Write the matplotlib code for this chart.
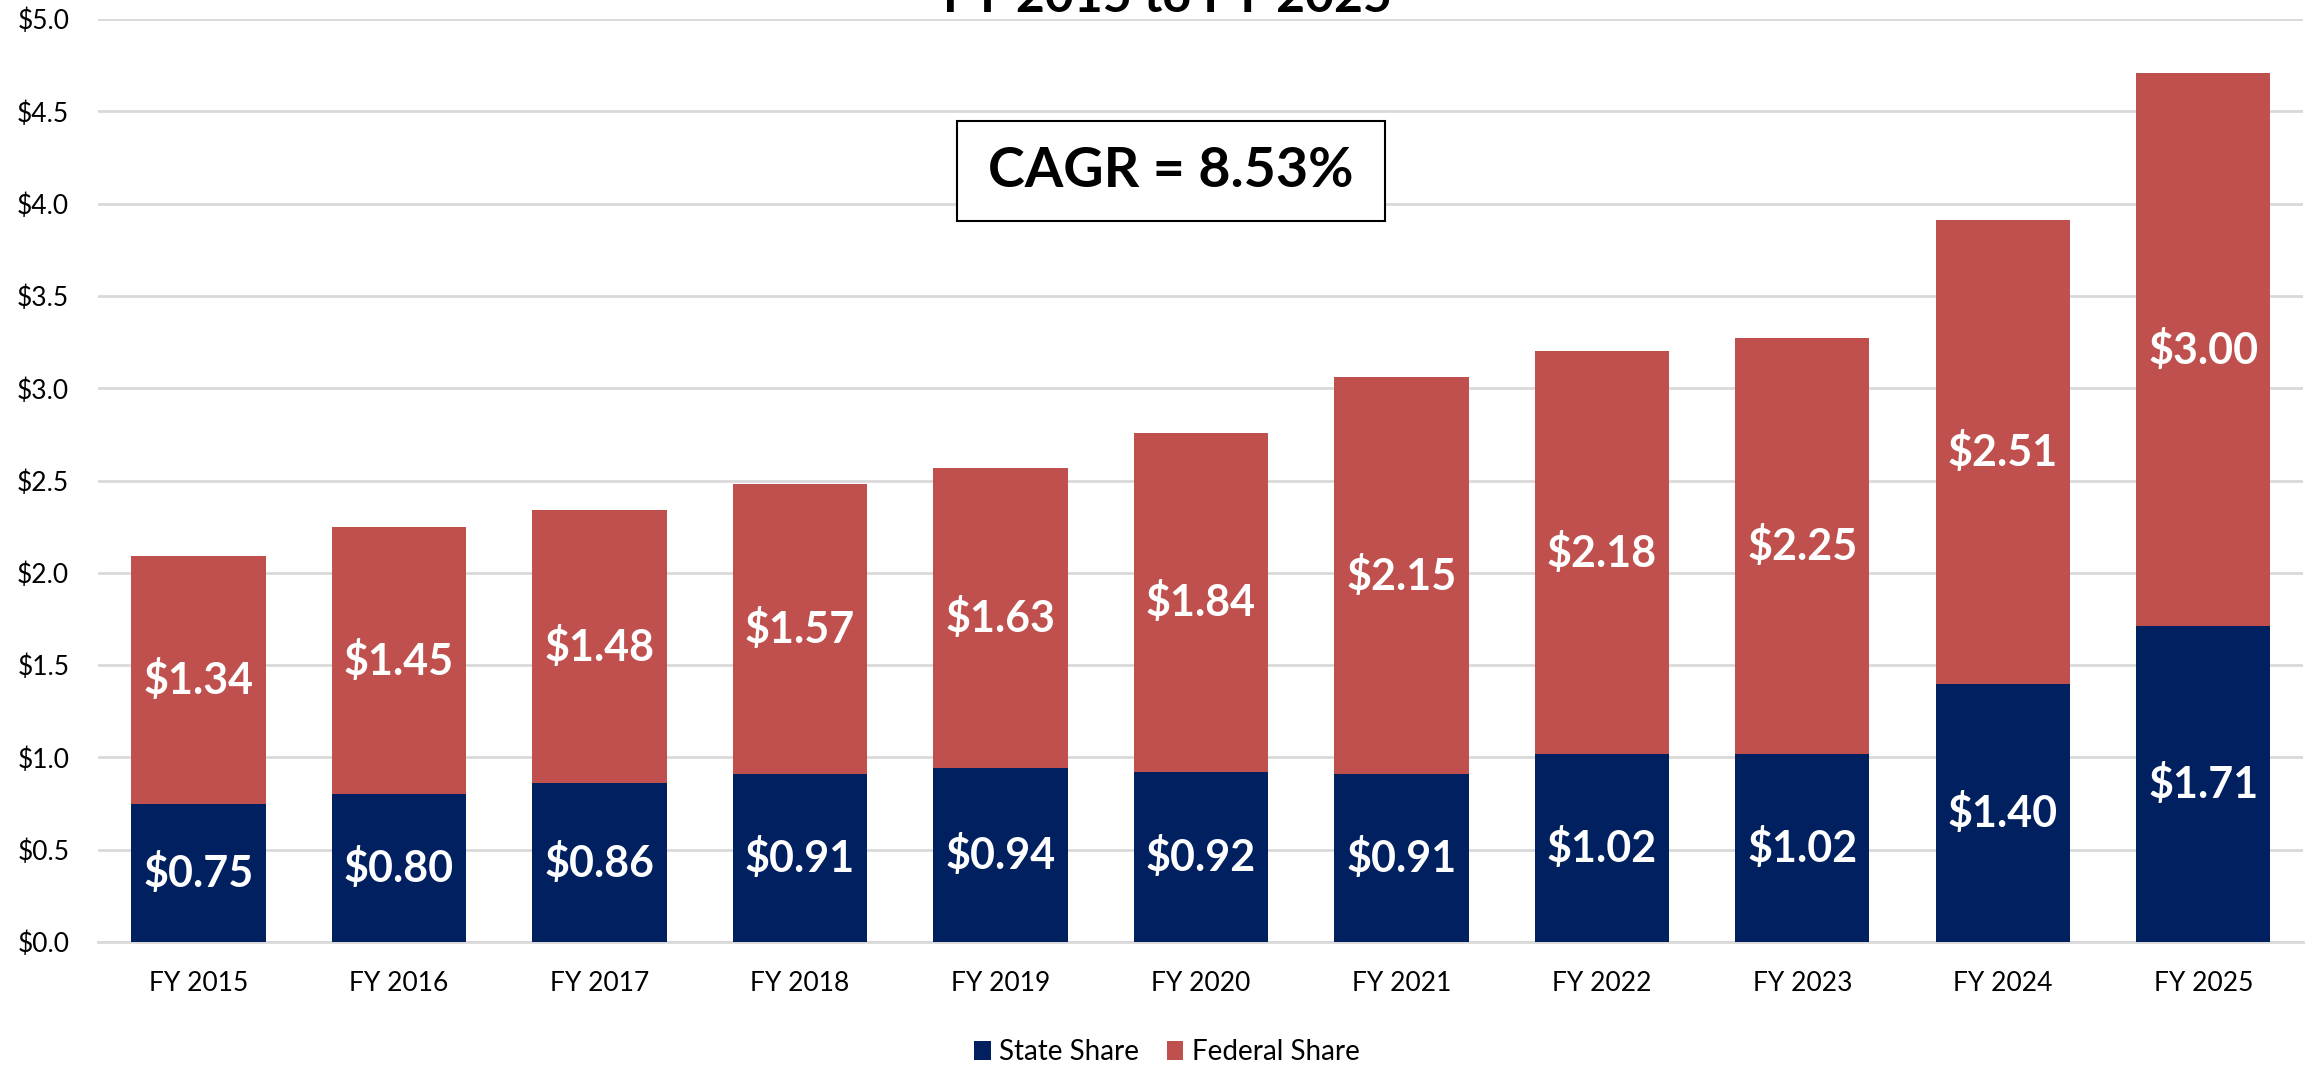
import matplotlib
matplotlib.use("Agg")
from matplotlib import pyplot as plt
from matplotlib.patches import Rectangle
import numpy as np

plt.rcParams['font.family'] = ['Lato', 'DejaVu Sans']

years = ["FY 2015", "FY 2016", "FY 2017", "FY 2018", "FY 2019", "FY 2020",
         "FY 2021", "FY 2022", "FY 2023", "FY 2024", "FY 2025"]
state_share = [0.75, 0.80, 0.86, 0.91, 0.94, 0.92, 0.91, 1.02, 1.02, 1.40, 1.71]
federal_share = [1.34, 1.45, 1.48, 1.57, 1.63, 1.84, 2.15, 2.18, 2.25, 2.51, 3.00]
y_ticks = [0.0, 0.5, 1.0, 1.5, 2.0, 2.5, 3.0, 3.5, 4.0, 4.5, 5.0]
cagr_text = "CAGR = 8.53%"
title_text = "FY 2015 to FY 2025"

navy = "#002060"
red = "#C0504D"

fig = plt.figure(figsize=(23.15, 10.68), dpi=100)
ax = fig.add_axes([0.0425, 0.118, 0.9525, 0.864])

x = np.arange(len(years))
state = np.array(state_share)
fed = np.array(federal_share)

ax.bar(x, state, width=0.67, color=navy, label="State Share", zorder=3)
ax.bar(x, fed, width=0.67, bottom=state, color=red, label="Federal Share", zorder=3)

# value labels centred in each segment
for i in range(len(x)):
    ax.text(x[i], state[i] / 2, f"${state[i]:.2f}", ha="center", va="center",
            color="white", fontsize=31, fontweight="bold", zorder=4)
    ax.text(x[i], state[i] + fed[i] / 2, f"${fed[i]:.2f}", ha="center", va="center",
            color="white", fontsize=31, fontweight="bold", zorder=4)

ax.set_xlim(-0.5, len(years) - 0.5)
ax.set_ylim(0, 5)
ax.set_yticks(y_ticks)
ax.set_yticklabels([f"${v:.1f}" for v in y_ticks])
ax.set_xticks(x)
ax.set_xticklabels(years)
ax.tick_params(axis="y", length=0, pad=21, labelsize=19, colors="black")
ax.tick_params(axis="x", length=0, pad=21, labelsize=19, colors="black")
ax.grid(axis="y", color="#D9D9D9", linewidth=2, zorder=0)
for s in ["top", "right", "left"]:
    ax.spines[s].set_visible(False)
ax.spines["bottom"].set_color("#D9D9D9")
ax.spines["bottom"].set_linewidth(2)

# CAGR box
ax.add_patch(Rectangle((0.3895, 0.781), 0.1941, 0.1085, transform=ax.transAxes,
                       facecolor="white", edgecolor="black", linewidth=1.5, zorder=5))
ax.text(0.4865, 0.835, cagr_text, transform=ax.transAxes, ha="center", va="center",
        fontsize=40, fontweight="bold", color="black", zorder=6)

# title (mostly cropped at top in the reference)
fig.text(0.5045, 0.989, title_text, ha="center", va="baseline",
         fontsize=36, fontweight="bold", color="black")

fig.legend(loc="center", bbox_to_anchor=(0.504, 0.015), ncol=2, frameon=False,
           fontsize=20, handlelength=0.6, handleheight=0.7, handletextpad=0.3,
           columnspacing=1.0, labelcolor="black")

fig.savefig("out.png", dpi=100)
